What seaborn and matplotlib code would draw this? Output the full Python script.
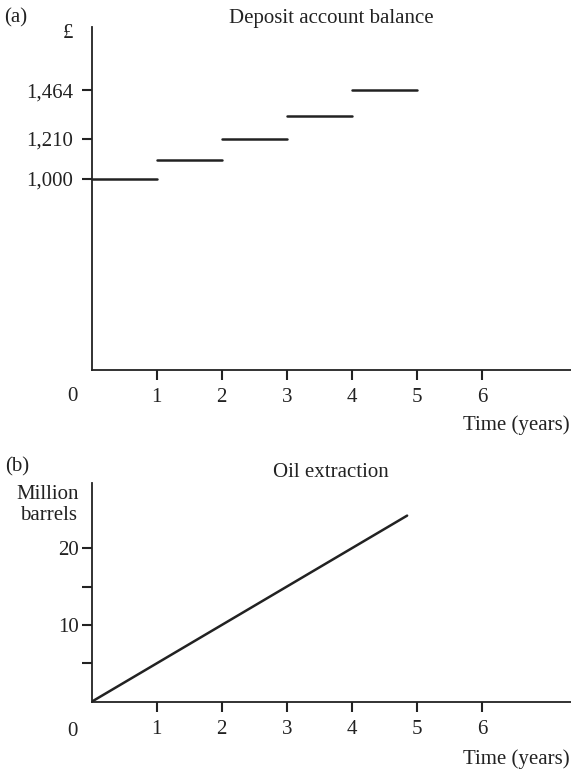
import pandas as pd
import matplotlib
matplotlib.use("Agg")
import matplotlib.pyplot as plt
import seaborn as sns

# (a) deposit account: balance held during each year
step_start = [0, 1, 2, 3, 4]
step_end = [1, 2, 3, 4, 5]
balances = [1000, 1100, 1210, 1331, 1464]
balance_ticks = [1000, 1210, 1464]
balance_labels = ["1,000", "1,210", "1,464"]

# (b) oil extraction: cumulative million barrels
oil_years = [0, 4.85]
oil_barrels = [0, 24.25]
oil_ticks = [5, 10, 15, 20]
oil_labels = ["", "10", "", "20"]

year_ticks = [1, 2, 3, 4, 5, 6]

sns.set_style("ticks")
plt.rcParams["font.family"] = ["Liberation Serif", "DejaVu Serif"]
fs = 15
ink = "#222222"

steps = pd.DataFrame({
    "year": step_start + step_end,
    "balance": balances + balances,
    "seg": list(range(len(balances))) * 2,
})
oil = pd.DataFrame({"year": oil_years, "barrels": oil_barrels})

fig = plt.figure(figsize=(5.71, 7.69), dpi=100)
ax1 = fig.add_axes([0.1606, 0.5189, 0.8394, 0.446])
ax2 = fig.add_axes([0.1606, 0.0875, 0.8394, 0.2844])

sns.lineplot(data=steps, x="year", y="balance", units="seg", estimator=None,
             color=ink, lw=1.8, ax=ax1)
sns.lineplot(data=oil, x="year", y="barrels", color=ink, lw=1.8, ax=ax2)

for ax in (ax1, ax2):
    ax.set_xlim(0, 7.37)
    ax.set_xticks(year_ticks)
    ax.set_xticklabels([str(t) for t in year_ticks])
    ax.set_xlabel("")
    ax.set_ylabel("")
    for side in ("top", "right"):
        ax.spines[side].set_visible(False)
    for side in ("left", "bottom"):
        ax.spines[side].set_linewidth(1.3)
        ax.spines[side].set_color(ink)
    ax.tick_params(axis="both", length=7, width=1.5, color=ink,
                   labelsize=fs, labelcolor=ink)
    ax.tick_params(axis="x", pad=6)

ax1.set_ylim(0, 1795)
ax1.set_yticks(balance_ticks)
ax1.set_yticklabels(balance_labels)
ax1.tick_params(axis="y", pad=6.5)

ax2.set_ylim(0, 28.5)
ax2.set_yticks(oil_ticks)
ax2.set_yticklabels(oil_labels)
ax2.tick_params(axis="y", pad=2.5)

# titles, unit labels and the origin label
ax1.text(0.5, 1.026, "Deposit account balance", transform=ax1.transAxes,
         ha="center", va="center", fontsize=fs, color=ink)
ax2.text(0.5, 1.046, "Oil extraction", transform=ax2.transAxes,
         ha="center", va="center", fontsize=fs, color=ink)
ax1.text(-0.049, 0.982, "£", transform=ax1.transAxes,
         ha="center", va="center", fontsize=fs, color=ink)
ax2.text(-0.091, 0.899, "Million\nbarrels", transform=ax2.transAxes,
         ha="center", va="center", fontsize=fs, color=ink, linespacing=1.15)
ax1.text(-0.04, -0.0787, "0", transform=ax1.transAxes,
         ha="center", va="center", fontsize=fs, color=ink)
ax2.text(-0.04, -0.134, "0", transform=ax2.transAxes,
         ha="center", va="center", fontsize=fs, color=ink)
ax1.text(0.998, -0.160, "Time (years)", transform=ax1.transAxes,
         ha="right", va="center", fontsize=fs, color=ink)
ax2.text(0.998, -0.262, "Time (years)", transform=ax2.transAxes,
         ha="right", va="center", fontsize=fs, color=ink)

fig.text(0.028, 1 - 18 / 769, "(a)", ha="center", va="center", fontsize=fs, color=ink)
fig.text(0.030, 1 - 467 / 769, "(b)", ha="center", va="center", fontsize=fs, color=ink)

fig.savefig("out.png", dpi=100, facecolor="white")
